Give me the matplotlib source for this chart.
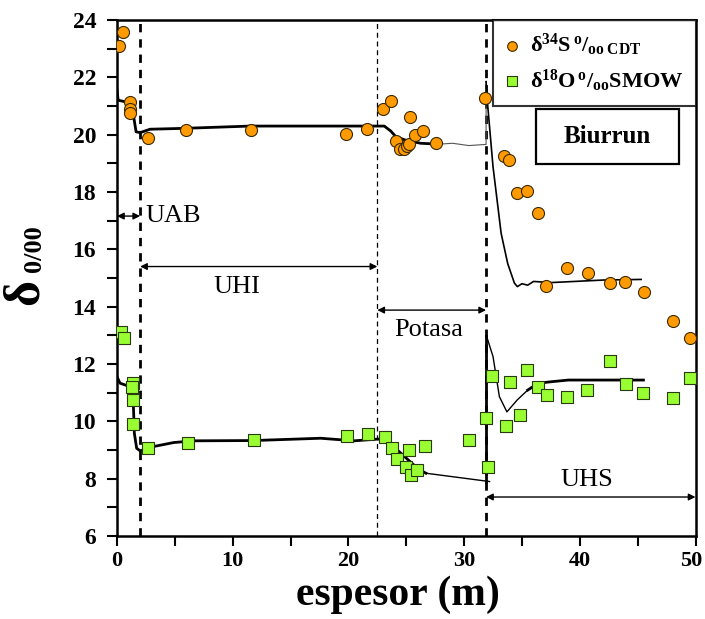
import matplotlib
matplotlib.use("Agg")
import matplotlib.pyplot as plt
from matplotlib.patches import Rectangle
from matplotlib.transforms import ScaledTranslation
import numpy as np

plt.rcParams['font.family'] = ['Liberation Serif', 'DejaVu Serif']
plt.rcParams['mathtext.fontset'] = 'custom'
plt.rcParams['mathtext.rm'] = 'Liberation Serif'
plt.rcParams['mathtext.bf'] = 'Liberation Serif:bold'
plt.rcParams['mathtext.it'] = 'Liberation Serif:italic'

# --- data: delta34S (CDT) ---
s_x = [0.17, 0.49, 1.13, 1.13, 1.15, 2.66, 5.98, 11.6, 19.76, 21.6, 23.0, 23.66,
       24.1, 24.5, 24.8, 25.04, 25.25, 25.3, 25.77, 26.46, 27.56, 31.8, 33.48,
       33.9, 34.6, 35.4, 36.4, 37.1, 38.9, 40.7, 42.6, 43.9, 45.55, 48.07, 49.5]
s_y = [23.1, 23.59, 21.15, 20.9, 20.75, 19.87, 20.16, 20.16, 20.01, 20.2, 20.88, 21.17,
       19.79, 19.5, 19.49, 19.62, 19.67, 20.63, 19.99, 20.14, 19.70, 21.29, 19.26,
       19.12, 17.98, 18.05, 17.28, 14.72, 15.34, 15.16, 14.82, 14.87, 14.5, 13.5, 12.9]

# --- data: delta18O (SMOW) ---
o_x = [0.32, 0.61, 1.36, 1.27, 1.36, 1.36, 2.72, 6.12, 11.8, 19.84, 21.7, 23.2,
       23.8, 24.2, 24.96, 25.4, 25.97, 25.2, 26.6, 30.4, 31.9, 32.1, 32.4, 33.6,
       34.0, 34.8, 35.4, 36.4, 37.2, 38.9, 40.6, 42.6, 44.0, 45.5, 48.07, 49.5]
o_y = [13.11, 12.9, 11.33, 11.19, 10.75, 9.9, 9.06, 9.23, 9.35, 9.5, 9.56, 9.47,
       9.06, 8.68, 8.42, 8.13, 8.30, 9.0, 9.14, 9.35, 10.1, 8.42, 11.58, 9.84,
       11.36, 10.22, 11.79, 11.19, 10.92, 10.86, 11.09, 12.12, 11.29, 10.98, 10.81, 11.52]

# --- model curves ---
s_line1_x = [0.0, 0.1, 0.7, 1.3, 1.45, 1.65, 2.0, 2.86, 5.75, 11.5, 23.1, 23.65, 24.1, 25.0, 26.25, 27.2]
s_line1_y = [21.56, 21.2, 21.15, 21.1, 20.6, 20.1, 20.07, 20.19, 20.22, 20.3, 20.3, 20.13, 19.93, 19.8, 19.70, 19.68]
s_line2_x = [27.5, 29.0, 30.4, 31.9, 31.9]
s_line2_y = [19.66, 19.7, 19.62, 19.66, 21.85]
s_line3_x = [31.9, 32.0, 32.5, 33.2, 33.77, 34.35, 34.6, 35.0, 35.5, 36.0, 37.5, 42.1, 45.3]
s_line3_y = [21.85, 21.2, 18.88, 16.56, 15.5, 14.82, 14.7, 14.8, 14.75, 14.88, 14.84, 14.93, 14.95]

o_line1_x = [0.0, 0.26, 0.84, 1.4, 1.4, 1.5, 1.7, 2.0, 3.15, 4.9, 6.6, 11.8, 17.6, 20.5, 22.5, 23.2, 24.5, 26.0, 26.7]
o_line1_y = [11.56, 11.33, 11.25, 11.3, 10.75, 9.58, 9.06, 8.97, 9.12, 9.26, 9.32, 9.33, 9.41, 9.32, 9.38, 9.38, 8.9, 8.35, 8.19]
o_line2_x = [26.7, 32.2]
o_line2_y = [8.19, 7.9]
o_line3_x = [31.9, 31.9]
o_line3_y = [7.9, 12.96]
o_line4_x = [31.95, 32.5, 33.05, 33.7, 34.6, 35.5]
o_line4_y = [12.96, 12.26, 10.86, 10.33, 10.75, 11.09]
o_line5_x = [35.5, 36.4, 37.5, 39.0, 42.1, 45.5]
o_line5_y = [11.09, 11.33, 11.38, 11.44, 11.44, 11.44]

boundaries = [2.0, 22.5, 31.9]
units = ["UAB", "UHI", "Potasa", "UHS"]

W, H = 705, 619
fig = plt.figure(figsize=(W/100, H/100), dpi=100)
ax = fig.add_axes([117/W, 1-536/H, (695.5-117)/W, (536-20)/H])

ax.set_xlim(0, 50)
ax.set_ylim(6, 24)

# model lines
ax.plot(s_line1_x, s_line1_y, color='black', lw=2.0, zorder=2)
ax.plot(s_line2_x, s_line2_y, color='#555555', lw=0.8, zorder=2)
ax.plot(s_line3_x, s_line3_y, color='black', lw=1.2, zorder=2)
ax.plot(o_line1_x, o_line1_y, color='black', lw=2.0, zorder=2)
ax.plot(o_line2_x, o_line2_y, color='black', lw=1.0, zorder=2)
ax.plot(o_line3_x, o_line3_y, color='black', lw=2.0, zorder=2)
ax.plot(o_line4_x, o_line4_y, color='black', lw=1.0, zorder=2)
ax.plot(o_line5_x, o_line5_y, color='black', lw=2.0, zorder=2)

# boundaries
ax.axvline(boundaries[0], color='black', lw=2.0, ls=(0, (3, 2.5)), zorder=1)
ax.axvline(boundaries[1], color='black', lw=0.9, ls=(0, (4, 3)), zorder=1)
ax.axvline(boundaries[2], color='black', lw=2.0, ls=(0, (3, 2.5)), zorder=1)

# points
ax.scatter(s_x, s_y, s=75, marker='o', facecolor='#ff9a00', edgecolor='#3a2a00', linewidth=0.8, zorder=3,
           label=r'$\mathbf{δ^{34}S\,^{o}/_{oo\ CDT}}$')
ax.scatter(o_x, o_y, s=70, marker='s', facecolor='#99ff33', edgecolor='#2a3a10', linewidth=0.8, zorder=3,
           label=r'$\mathbf{δ^{18}O\,^{o}/_{oo}SMOW}$')

# unit arrows
arrow_kw = dict(arrowstyle='<|-|>', color='black', lw=1.0, mutation_scale=10, shrinkA=0, shrinkB=0)
ax.annotate('', xy=(0, 17.16), xytext=(boundaries[0], 17.16), arrowprops=arrow_kw)
ax.text(2.5, 17.16, units[0], fontsize=19, va='center', ha='left')
ax.annotate('', xy=(boundaries[0], 15.4), xytext=(boundaries[1], 15.4), arrowprops=arrow_kw)
ax.text(10.35, 14.7, units[1], fontsize=19, va='center', ha='center')
ax.annotate('', xy=(boundaries[1], 13.88), xytext=(boundaries[2], 13.88), arrowprops=arrow_kw)
ax.text(26.9, 13.2, units[2], fontsize=19, va='center', ha='center')
ax.annotate('', xy=(boundaries[2], 7.36), xytext=(50, 7.36), arrowprops=arrow_kw)
ax.text(40.6, 7.95, units[3], fontsize=19, va='center', ha='center')

# legend
leg = ax.legend(loc='upper right', bbox_to_anchor=(1.0, 1.0), fontsize=16, frameon=True,
                fancybox=False, edgecolor='black', handletextpad=0.5, borderpad=0.55,
                labelspacing=0.4, handlelength=0.6, markerscale=0.8, borderaxespad=0)
leg.get_frame().set_linewidth(1.5)
leg.set_zorder(6)

# Biurrun box
fig.patches.append(Rectangle((536/W, 1-164/H), 143/W, 55/H, transform=fig.transFigure,
                             facecolor='white', edgecolor='black', linewidth=1.6, zorder=5))
fig.text(607.5/W, 1-136.5/H, 'Biurrun', fontsize=18, fontweight='bold', ha='center', va='center', zorder=6)

# ticks
ax.set_xticks([0, 10, 20, 30, 40, 50])
ax.set_xticks([5, 15, 25, 35, 45], minor=True)
ax.set_yticks(np.arange(6, 25, 2))
ax.set_yticks(np.arange(7, 24, 2), minor=True)
ax.tick_params(axis='both', which='both', direction='out', width=1.5, length=7)
ax.tick_params(axis='x', labelsize=16, pad=4)
ax.tick_params(axis='y', labelsize=17, pad=8)
for lab in ax.get_xticklabels() + ax.get_yticklabels():
    lab.set_fontweight('bold')
xl = ax.get_xticklabels()
xl[-1].set_transform(xl[-1].get_transform() + ScaledTranslation(-0.04, 0, fig.dpi_scale_trans))
for sp in ax.spines.values():
    sp.set_linewidth(1.8)

fig.text(398/W, 1-595/H, 'espesor (m)', fontsize=30, fontweight='bold', ha='center', va='center')

# y label: big delta + 0/00
fig.text(26/W, 1-292/H, 'δ', rotation=90, fontsize=36, fontweight='bold', ha='center', va='center')
fig.text(35/W, 1-249/H, '0/00', rotation=90, fontsize=19, fontweight='bold', ha='center', va='center')

fig.savefig('out.png', dpi=100)
